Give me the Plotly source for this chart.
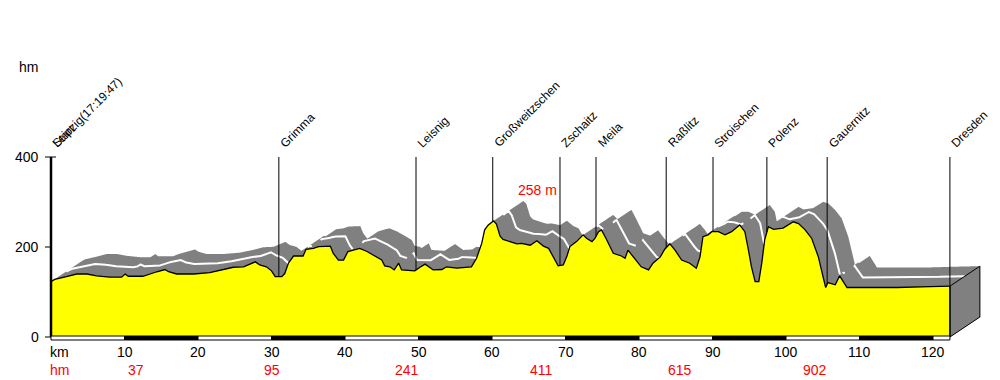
import numpy as np
import plotly.graph_objects as go

# ---------------- data ----------------
KM = [0.0, 0.5, 2.1, 3.5, 4.9, 6.2, 8.0, 9.6, 10.1, 10.5, 12.5, 13.5, 14.4, 15.5, 16.0,
      17.1, 19.4, 21.6, 23.4, 24.8, 26.2, 26.8, 27.8, 28.4, 29.3, 30.0, 30.5, 31.4, 31.8,
      32.3, 33.0, 34.3, 34.7, 35.7, 36.4, 38.0, 38.4, 39.1, 39.8, 40.4, 41.4, 42.0, 43.0,
      44.1, 45.0, 45.4, 46.1, 46.7, 47.3, 47.7, 49.5, 50.2, 50.9, 52.0, 53.2, 53.8, 55.2,
      57.2, 57.9, 58.6, 59.0, 59.5, 60.2, 60.6, 61.1, 61.5, 62.4, 63.4, 64.0, 65.2, 66.1,
      67.0, 67.7, 68.6, 69.0, 69.7, 70.2, 70.6, 71.5, 72.4, 72.9, 73.6, 74.0, 74.5, 74.9,
      75.6, 76.5, 77.6, 78.1, 78.5, 79.2, 80.3, 81.3, 81.9, 82.9, 83.5, 84.2, 84.9, 85.8,
      86.9, 87.8, 88.3, 88.7, 89.4, 89.9, 90.8, 91.7, 92.6, 93.7, 94.4, 94.8, 95.3, 95.8,
      96.3, 96.7, 97.1, 97.6, 98.3, 99.6, 100.3, 101.0, 101.7, 102.6, 103.5, 104.4, 105.1,
      105.4, 105.7, 106.7, 107.3, 107.8, 108.3, 110.5, 115.1, 119.6, 122.3]
ELEV = [123, 128, 134, 140, 140, 136, 133, 133, 140, 135, 135, 141, 145, 150, 145,
        140, 140, 143, 149, 155, 156, 160, 167, 160, 156, 147, 134, 134, 141,
        164, 180, 180, 195, 197, 201, 202, 186, 171, 171, 190, 195, 197, 190,
        180, 171, 158, 156, 149, 164, 149, 147, 155, 162, 149, 150, 156, 153,
        156, 175, 208, 238, 249, 258, 251, 224, 217, 212, 207, 208, 204, 214,
        202, 197, 171, 158, 160, 180, 201, 212, 227, 219, 212, 219, 234, 238,
        216, 186, 180, 175, 193, 178, 156, 149, 164, 178, 195, 207, 193, 171,
        164, 153, 178, 223, 227, 234, 234, 227, 234, 249, 234, 201, 156, 123,
        123, 164, 216, 245, 239, 242, 249, 256, 252, 238, 219, 178, 130,
        110, 121, 116, 136, 123, 110, 110, 110, 112, 113]

PLACES = ["Start", "Leipzig(17:19:47)", "Grimma", "Leisnig", "Großweitzschen", "Zschaitz",
          "Meila", "Raßlitz", "Stroischen", "Polenz", "Gauernitz", "Dresden"]
PLACE_KM = [0.0, 0.0, 31.0, 49.66, 60.1, 69.25, 74.15, 83.7, 90.07, 97.4, 105.6, 122.3]

KM_TICKS = [10, 20, 30, 40, 50, 60, 70, 80, 90, 100, 110, 120]
Y_TICKS = [0, 200, 400]
CLIMB_KM = [11.6, 30.1, 48.4, 66.8, 85.6, 103.9]
CLIMB_HM = [37, 95, 241, 411, 615, 902]

# ---------------- geometry / style ----------------
OFF = 8               # page body margin of the html page
PX_KM = 7.35          # px per km
PX_M = 0.45           # px per m
X0, Y0 = 51 - OFF, 337 - OFF   # figure pixel of (0 km, 0 m)
W, H = 1000 - OFF, 380 - OFF
DX = 30 / PX_KM       # depth offset (km)
DY = 20 / PX_M        # depth offset (m)
FONT = "Arial, Liberation Sans, sans-serif"
GRAY = "#808080"
YELLOW = "#ffff00"

km = np.array(KM, float)
el = np.array(ELEV, float)
x_end = km[-1]
e_end = el[-1]

# swept 3D top surface
xg = np.arange(0, x_end + DX + 1e-9, 0.03)
ts = np.linspace(0, 1, 61)
Y = np.full((len(ts), len(xg)), np.nan)
for i, t in enumerate(ts):
    xs = xg - t * DX
    ok = (xs >= 0) & (xs <= x_end)
    Y[i, ok] = np.interp(xs[ok], km, el) + t * DY
env = np.nanmax(Y, axis=0)

ih = 30  # t = 0.5
front_max = np.nanmax(Y[:ih + 1], axis=0)
mid = Y[ih]
vis = (~np.isnan(mid)) & (mid >= front_max - 0.7 / PX_M)
white_y = [float(v) if ok else None for v, ok in zip(mid, vis)]

fig = go.Figure()

# gray top surface
gx = list(xg) + [x_end + DX, x_end, 0]
gy = list(env) + [DY, 0, 0]
fig.add_trace(go.Scatter(x=gx, y=gy, fill="toself", fillcolor=GRAY, mode="none",
                         hoverinfo="skip", showlegend=False))
# white centre line
fig.add_trace(go.Scatter(x=list(xg), y=white_y, mode="lines",
                         line=dict(color="white", width=2), connectgaps=False,
                         hoverinfo="skip", showlegend=False))
# right side face
fig.add_trace(go.Scatter(x=[x_end, x_end + DX, x_end + DX, x_end, x_end],
                         y=[0, DY, e_end + DY, e_end, 0], fill="toself",
                         fillcolor=GRAY, mode="lines", line=dict(color="black", width=1),
                         hoverinfo="skip", showlegend=False))
# yellow front
fig.add_trace(go.Scatter(x=KM + [x_end, 0], y=ELEV + [0, 0], fill="toself",
                         fillcolor=YELLOW, mode="none", hoverinfo="skip", showlegend=False))
fig.add_trace(go.Scatter(x=KM, y=ELEV, mode="lines", line=dict(color="black", width=1.3),
                         hoverinfo="skip", showlegend=False))
fig.add_trace(go.Scatter(x=[x_end, x_end], y=[0, e_end], mode="lines",
                         line=dict(color="black", width=1.5), hoverinfo="skip",
                         showlegend=False))

# waypoint lines
lx, ly = [], []
for p in sorted(set(PLACE_KM)):
    if p <= 0:
        continue
    lx += [p, p, None]
    ly += [400, float(np.interp(p, km, el)), None]
fig.add_trace(go.Scatter(x=lx, y=ly, mode="lines", line=dict(color="black", width=1),
                         hoverinfo="skip", showlegend=False))

# y axis line and ticks
fig.add_trace(go.Scatter(x=[0, 0], y=[0, 400], mode="lines",
                         line=dict(color="black", width=2.5), hoverinfo="skip",
                         showlegend=False))
tx, ty = [], []
for v in Y_TICKS:
    right = 5 / PX_KM if v == 400 else 0
    tx += [-6 / PX_KM, right, None]
    ty += [v, v, None]
fig.add_trace(go.Scatter(x=tx, y=ty, mode="lines", line=dict(color="black", width=1),
                         hoverinfo="skip", showlegend=False))

# scale bar
bar_top, bar_bot = 1 / PX_M, -3 / PX_M
edges = [0] + KM_TICKS + [x_end]
shapes = []
for i in range(len(edges) - 1):
    shapes.append(dict(type="rect", xref="x", yref="y", x0=edges[i], x1=edges[i + 1],
                       y0=bar_bot, y1=bar_top, line=dict(color="black", width=1),
                       fillcolor="white" if i % 2 == 0 else "black", layer="above"))

ann = []
def A(**k):
    d = dict(showarrow=False, font=dict(family=FONT, size=14, color="black"))
    d.update(k)
    ann.append(d)

for v in Y_TICKS:
    A(x=0, y=v, text=str(v), xanchor="right", yanchor="middle", xshift=-10)
A(x=(28 - OFF) / W, y=1 - (67 - OFF) / H, xref="paper", yref="paper", text="hm",
  xanchor="center", yanchor="middle")

ylab = -15 / PX_M
yhm = -33 / PX_M
A(x=0, y=ylab, text="km", xanchor="left", yanchor="middle", xshift=-3)
for v in KM_TICKS:
    A(x=v, y=ylab, text=str(v), xanchor="center", yanchor="middle")
A(x=0, y=yhm, text="hm", xanchor="left", yanchor="middle", xshift=-3,
  font=dict(family=FONT, size=14, color="red"))
for xv, hv in zip(CLIMB_KM, CLIMB_HM):
    A(x=xv, y=yhm, text=str(hv), xanchor="center", yanchor="middle",
      font=dict(family=FONT, size=14, color="red"))

imax = int(np.argmax(el))
A(x=km[imax], y=el[imax], text=f"{int(el[imax])} m", xanchor="center", yanchor="middle",
  xshift=44, yshift=31, font=dict(family=FONT, size=14, color="red"))

for name, p in zip(PLACES, PLACE_KM):
    A(x=p, y=400, text=name, textangle=-45, xanchor="left", yanchor="bottom",
      xshift=-4, yshift=4, font=dict(family=FONT, size=12, color="black"))

fig.update_layout(
    width=W, height=H, autosize=False,
    margin=dict(l=0, r=0, t=0, b=0),
    paper_bgcolor="white", plot_bgcolor="white",
    xaxis=dict(range=[-X0 / PX_KM, (W - X0) / PX_KM], visible=False),
    yaxis=dict(range=[-(H - Y0) / PX_M, Y0 / PX_M], visible=False),
    shapes=shapes, annotations=ann, showlegend=False,
)
fig.write_html("out.html")
